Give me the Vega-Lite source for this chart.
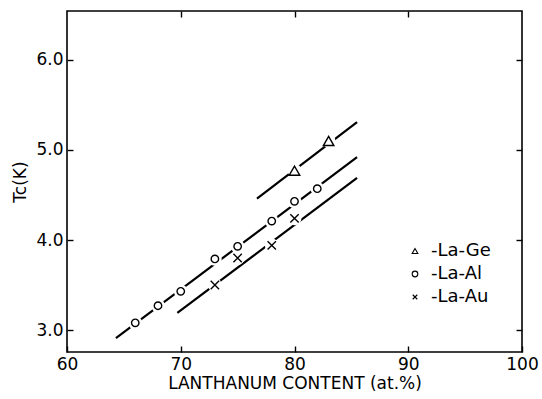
{
  "$schema": "https://vega.github.io/schema/vega-lite/v6.json",
  "width": 455,
  "height": 341,
  "autosize": {"type": "none"},
  "padding": {"left": 67, "top": 11, "right": 20, "bottom": 47},
  "background": "white",
  "config": {
    "view": {"stroke": "black", "strokeWidth": 1.6},
    "font": "DejaVu Sans",
    "axis": {
      "domain": false,
      "grid": false,
      "tickColor": "black",
      "tickWidth": 1.4,
      "tickSize": -6,
      "labelColor": "black",
      "labelFontSize": 17,
      "labelFont": "DejaVu Sans",
      "titleColor": "black",
      "titleFont": "DejaVu Sans",
      "titleFontSize": 17,
      "titleFontWeight": "normal"
    }
  },
  "datasets": {
    "lines": [
      {"alloy": "La-Ge", "x": 76.7, "tc": 4.46},
      {"alloy": "La-Ge", "x": 85.5, "tc": 5.31},
      {"alloy": "La-Al", "x": 64.3, "tc": 2.91},
      {"alloy": "La-Al", "x": 85.5, "tc": 4.92},
      {"alloy": "La-Au", "x": 69.7, "tc": 3.19},
      {"alloy": "La-Au", "x": 85.5, "tc": 4.69}
    ],
    "points": [
      {"alloy": "La-Ge", "x": 80, "tc": 4.77},
      {"alloy": "La-Ge", "x": 83, "tc": 5.1},
      {"alloy": "La-Al", "x": 66, "tc": 3.08},
      {"alloy": "La-Al", "x": 68, "tc": 3.27},
      {"alloy": "La-Al", "x": 70, "tc": 3.43},
      {"alloy": "La-Al", "x": 73, "tc": 3.79},
      {"alloy": "La-Al", "x": 75, "tc": 3.93},
      {"alloy": "La-Al", "x": 78, "tc": 4.21},
      {"alloy": "La-Al", "x": 80, "tc": 4.43},
      {"alloy": "La-Al", "x": 82, "tc": 4.57},
      {"alloy": "La-Au", "x": 73, "tc": 3.5},
      {"alloy": "La-Au", "x": 75, "tc": 3.8},
      {"alloy": "La-Au", "x": 78, "tc": 3.94},
      {"alloy": "La-Au", "x": 80, "tc": 4.24}
    ]
  },
  "resolve": {"axis": {"x": "independent", "y": "independent"}},
  "layer": [
    {
      "data": {"name": "lines"},
      "mark": {"type": "line", "color": "black", "strokeWidth": 2.2},
      "encoding": {
        "x": {"field": "x", "type": "quantitative", "scale": {"domain": [60, 100], "nice": false, "zero": false},
          "axis": {"orient": "bottom", "values": [60, 70, 80, 90, 100], "labelPadding": 10, "title": "LANTHANUM CONTENT (at.%)", "titlePadding": 3, "labelFlush": false}},
        "y": {"field": "tc", "type": "quantitative", "scale": {"domain": [2.756, 6.544], "nice": false, "zero": false},
          "axis": {"orient": "left", "values": [3, 4, 5, 6], "format": ".1f", "labelPadding": 10, "title": "Tc(K)", "titlePadding": 6, "labelFlush": false}},
        "detail": {"field": "alloy"}
      }
    },
    {
      "data": {"name": "lines"},
      "mark": {"type": "point", "opacity": 0},
      "encoding": {
        "x": {"field": "x", "type": "quantitative", "axis": {"orient": "top", "values": [70, 80, 90], "labels": false, "title": null}},
        "y": {"field": "tc", "type": "quantitative", "axis": {"orient": "right", "values": [3, 4, 5, 6], "labels": false, "title": null}}
      }
    },
    {
      "data": {"name": "points"},
      "mark": {"type": "point", "shape": "circle", "filled": true, "color": "white", "opacity": 1, "size": 190},
      "encoding": {
        "x": {"field": "x", "type": "quantitative", "axis": null},
        "y": {"field": "tc", "type": "quantitative", "axis": null}
      }
    },
    {
      "data": {"name": "points"},
      "mark": {"type": "point", "filled": false, "color": "black", "strokeWidth": 1.4, "opacity": 1},
      "encoding": {
        "x": {"field": "x", "type": "quantitative", "axis": null},
        "y": {"field": "tc", "type": "quantitative", "axis": null},
        "shape": {"field": "alloy", "type": "nominal",
          "scale": {"domain": ["La-Ge", "La-Al", "La-Au"], "range": ["triangle-up", "circle", "M-0.8,-0.8L0.8,0.8M-0.8,0.8L0.8,-0.8"]},
          "legend": {"orient": "none", "legendX": 339, "legendY": 231, "title": null, "labelExpr": "'-' + datum.label",
            "labelFontSize": 18, "labelFont": "DejaVu Sans", "labelColor": "black", "symbolStrokeColor": "black", "symbolStrokeWidth": 1.1,
            "symbolSize": 32, "rowPadding": 5, "labelOffset": 7}},
        "size": {"condition": [{"test": "datum.alloy === 'La-Ge'", "value": 110}, {"test": "datum.alloy === 'La-Au'", "value": 110}], "value": 55}
      }
    }
  ]
}
